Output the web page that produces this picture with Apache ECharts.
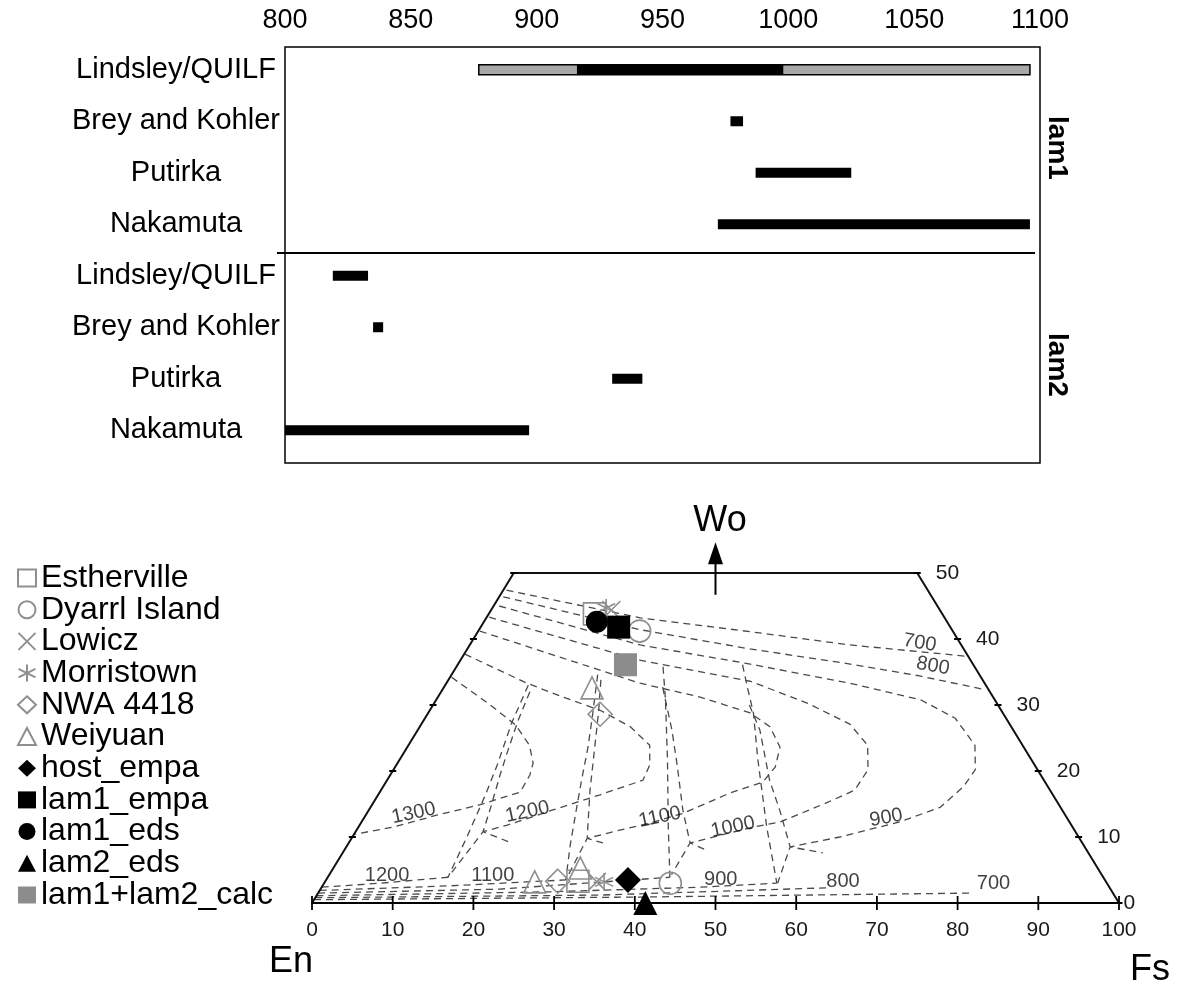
<!DOCTYPE html>
<html><head><meta charset="utf-8">
<script src="https://cdn.jsdelivr.net/npm/echarts@6/dist/echarts.min.js"></script>
<style>html,body{margin:0;padding:0;background:#fff}#c{width:1183px;height:988px}</style>
</head><body><div id="c"></div>
<script>
// ================= DATA =================
// --- top panel: temperature ranges (deg C) ---
const methods = ['Lindsley/QUILF', 'Brey and Kohler', 'Putirka', 'Nakamuta'];
const groups = ['lam1', 'lam2'];
const lam1Low  = [916, 977, 987, 972];
const lam1High = [998, 982, 1025, 1096];
const lam2Low  = [819, 835, 930, 800];
const lam2High = [833, 839, 942, 897];
const quilfLam1Extended = [877, 1096];     // grey extended range, Lindsley/QUILF lam1
const tempTicks = [800, 850, 900, 950, 1000, 1050, 1100];

// --- bottom panel: pyroxene quadrilateral, points as [Fs, Wo] (mol%) ---
const baseTicks = [0, 10, 20, 30, 40, 50, 60, 70, 80, 90, 100];
const woTicks = [0, 10, 20, 30, 40, 50];
const quadCorners = [[0, 0], [0, 50], [50, 50], [100, 0]];

// augite-side isotherms (deg C)
const aug700  = [[0.4,47.4],[19.1,43.2],[33.8,41.1],[47.1,39.1],[62.3,37.4]];
const aug800  = [[0.5,46.4],[20.0,41.4],[35.0,38.5],[48.6,36.2],[58.1,34.4],[66.9,32.4]];
const aug900  = [[0.7,45.0],[21.1,39.1],[36.2,36.2],[50.0,33.3],[60.0,30.8],[65.7,28.0],[70.2,23.9],[72.1,20.2],[71.9,17.6],[70.6,14.5],[66.7,12.3],[60.4,10.0],[55.0,8.5],[59.5,7.6]];
const aug1000 = [[0.3,43.3],[22.2,36.8],[37.5,33.6],[46.2,30.3],[53.1,27.1],[56.9,23.9],[58.8,20.2],[58.7,17.1],[56.2,15.2],[51.9,12.3],[48.6,11.4],[42.3,9.1],[44.9,8.0]];
const aug1100 = [[0.2,41.2],[24.0,33.3],[32.5,31.2],[39.9,28.8],[43.4,26.7],[46.2,23.6],[47.1,20.6],[46.7,18.3],[43.5,16.7],[39.2,13.6],[35.8,12.1],[31.9,10.8],[29.2,9.8],[31.5,9.1]];
const aug1200 = [[0.1,37.7],[10.0,33.3],[15.5,31.2],[21.1,29.2],[26.1,26.7],[29.9,23.9],[31.4,20.9],[31.7,18.6],[27.5,16.4],[22.8,14.1],[18.3,11.8],[15.8,10.8],[20.2,9.1]];
const aug1300 = [[0.2,34.2],[7.1,30.0],[11.7,27.0],[15.0,23.9],[16.8,21.2],[17.3,19.4],[17.4,16.8],[13.4,14.9],[8.8,13.3],[4.3,11.5],[0,10.4]];
// field boundaries (near-vertical dashed lines)
const bnd1200a = [[10.3,33.0],[11.1,27.3],[12.5,20.9],[13.3,16.4],[14.2,10.0],[14.9,3.9]];
const bnd1200b = [[11.0,32.0],[11.7,27.7],[12.7,23.2],[13.6,19.4],[14.8,14.9],[15.8,10.8],[14.9,3.9]];
const bnd1100a = [[18.1,34.6],[20.4,28.8],[22.4,23.6],[24.1,18.6],[25.7,14.1],[27.6,8.8],[29.7,3.5]];
const bnd1100b = [[18.9,33.8],[21.1,28.8],[23.4,23.2],[25.9,17.1],[29.2,9.8],[29.7,3.5]];
const bnd1000a = [[25.6,35.8],[28.4,30.8],[33.2,21.7],[38.4,11.5],[42.4,3.9]];
const bnd1000b = [[27.1,32.7],[31.5,26.2],[34.8,20.9],[38.9,14.1],[42.3,9.1],[42.4,4.3]];
const bnd900a  = [[35.3,36.1],[37.6,32.7],[40.3,28.8],[44.4,21.7],[50.6,11.5],[56.1,3.0]];
const bnd900b  = [[39.2,30.0],[42.4,26.2],[47.4,18.6],[50.9,14.1],[55.0,8.5],[56.2,3.0]];
// low-Ca (opx) isotherms
const opx1200 = [[0,2.4],[7.0,3.0],[14.9,3.9]];
const opx1100 = [[0,1.9],[15.8,2.6],[29.7,3.5]];
const opx1000 = [[0,1.5],[22.2,2.1],[42.4,3.9]];
const opx900  = [[0,1.1],[28.7,1.7],[46.9,2.4],[56.1,3.0]];
const opx800  = [[0,0.8],[35.1,1.2],[62.7,2.3]];
const opx700  = [[0,0.5],[40.2,0.9],[80.8,1.5]];
// isotherm labels [Fs, Wo, text, rotation]
const isoLabels = [
  [55.6,39.4,'700',-10],[59.0,35.9,'800',-10],
  [5.8,13.6,'1300',12],[19.8,13.8,'1200',12],[36.6,13.0,'1100',12],[46.4,11.5,'1000',12],[64.7,12.9,'900',10],
  [7.2,4.2,'1200',0],[20.3,4.2,'1100',0],[48.9,3.5,'900',0],[64.2,3.2,'800',0],[83.0,2.9,'700',0]
];
// samples
const sampleNames = ['Estherville','Dyarrl Island','Lowicz','Morristown','NWA 4418','Weiyuan','host_empa','lam1_empa','lam1_eds','lam2_eds','lam1+lam2_calc'];
const estherville = [[13.1,43.8],[31.3,3.3]];
const dyarrl      = [[20.0,41.2],[42.9,3.0]];
const lowicz      = [[14.9,44.4],[33.7,3.2]];
const morristown  = [[14.1,44.7],[34.6,3.2]];
const nwa4418     = [[21.4,28.6],[28.8,3.3]];
const weiyuan     = [[18.4,32.6],[26.0,3.2],[30.6,5.3]];
const hostEmpa    = [[37.4,3.5]];
const lam1Empa    = [[17.1,41.8]];
const lam1Eds     = [[14.0,42.6]];
const lam2Eds     = [[41.3,0.0]];
const lamCalc     = [[20.8,36.1]];

// ================= CHART =================
const FONT = "'Liberation Sans', Arial, Helvetica, sans-serif";
const proj = p => [p[0] + p[1] / 2, p[1]];   // [Fs, Wo] -> quadrilateral plot coords

const categories = [];
groups.forEach(g => methods.forEach(m => categories.push(g + '|' + m)));

const barData = [[0, quilfLam1Extended[0], quilfLam1Extended[1], 1]];
methods.forEach((m, i) => barData.push([i, lam1Low[i], lam1High[i], 0]));
methods.forEach((m, i) => barData.push([i + methods.length, lam2Low[i], lam2High[i], 0]));

const dashed = {color: '#4a4a4a', width: 1.3, type: [7, 5]};
const curves = [aug700, aug800, aug900, aug1000, aug1100, aug1200, aug1300,
  bnd1200a, bnd1200b, bnd1100a, bnd1100b, bnd1000a, bnd1000b, bnd900a, bnd900b,
  opx1200, opx1100, opx1000, opx900, opx800, opx700];

const Q = {xAxisIndex: 2, yAxisIndex: 2};
const series = [];

series.push({
  type: 'custom', xAxisIndex: 1, yAxisIndex: 1, data: barData,
  encode: {x: [1, 2], y: 0}, silent: true,
  renderItem(params, api) {
    const yi = api.value(0);
    const a = api.coord([api.value(1), yi]);
    const b = api.coord([api.value(2), yi]);
    const h = 10;
    const grey = api.value(3) === 1;
    return {type: 'rect', shape: {x: a[0], y: a[1] - h / 2, width: b[0] - a[0], height: h},
      style: grey ? {fill: '#a8a8a8', stroke: '#000', lineWidth: 1.5} : {fill: '#000'}};
  }
});

curves.forEach(c => series.push(Object.assign({
  type: 'line', data: c.map(proj), symbol: 'none', silent: true, lineStyle: dashed, z: 2
}, Q)));

series.push(Object.assign({
  type: 'line', data: quadCorners.map(proj), symbol: 'none', silent: true,
  lineStyle: {color: '#111', width: 2}, z: 3
}, Q));

// Wo arrow
series.push(Object.assign({
  type: 'line', silent: true, z: 3, symbol: 'none', showSymbol: true, clip: false,
  lineStyle: {color: '#000', width: 2},
  data: [{value: [50, 46.7]}, {value: [50, 53.0], symbol: 'triangle', symbolSize: [15, 22], itemStyle: {color: '#000', opacity: 1}}]
}, Q));

// tick marks
series.push(Object.assign({
  type: 'scatter', silent: true, z: 4, symbol: 'rect', symbolSize: [1.8, 14], itemStyle: {color: '#000', opacity: 1},
  data: baseTicks.map(v => proj([v, 0]))
}, Q));
series.push(Object.assign({
  type: 'scatter', silent: true, z: 4, symbol: 'rect', symbolSize: [7, 2], itemStyle: {color: '#000', opacity: 1},
  data: woTicks.filter(w => w > 0).map(w => proj([0, w]))
}, Q));
series.push(Object.assign({
  type: 'scatter', silent: true, z: 4, symbol: 'rect', symbolSize: [7, 2], itemStyle: {color: '#000', opacity: 1},
  label: {show: true, position: 'right', distance: 15, formatter: '{b}', fontSize: 21, color: '#1a1a1a', fontFamily: FONT},
  data: woTicks.map(w => ({value: proj([100 - w, w]), name: String(w), label: w === 0 ? {distance: 1} : undefined}))
}, Q));

// isotherm labels
series.push(Object.assign({
  type: 'scatter', silent: true, z: 5, symbolSize: 0,
  label: {show: true, position: 'inside', formatter: '{b}', fontSize: 20, color: '#111', fontFamily: FONT},
  data: isoLabels.map(l => ({value: proj([l[0], l[1]]), name: l[2], label: {rotate: l[3]}}))
}, Q));

// sample markers
const hollow = {color: 'rgba(255,255,255,0)', borderColor: '#8f8f8f', borderWidth: 1.6, opacity: 1};
const sampleSeries = [
  ['Estherville', estherville, 'rect', hollow, 22],
  ['Dyarrl Island', dyarrl, 'circle', hollow, 22],
  ['Lowicz', lowicz, 'path://M0,0L10,10M10,0L0,10', hollow, 18],
  ['Morristown', morristown, 'path://M5,0L5,10M0,2.5L10,7.5M0,7.5L10,2.5', hollow, 18],
  ['NWA 4418', nwa4418, 'diamond', hollow, 24],
  ['Weiyuan', weiyuan, 'triangle', hollow, 22],
  ['host_empa', hostEmpa, 'diamond', {color: '#000', opacity: 1}, 26],
  ['lam1_empa', lam1Empa, 'rect', {color: '#000', opacity: 1}, 23],
  ['lam1_eds', lam1Eds, 'circle', {color: '#000', opacity: 1}, 22],
  ['lam2_eds', lam2Eds, 'triangle', {color: '#000', opacity: 1}, 24],
  ['lam1+lam2_calc', lamCalc, 'rect', {color: '#8c8c8c', opacity: 1}, 23]
];
sampleSeries.forEach((s, i) => series.push(Object.assign({
  type: 'scatter', name: s[0], data: s[1].map(proj), symbol: s[2], symbolSize: s[4],
  itemStyle: s[3], z: 6 + i
}, Q)));

const chart = echarts.init(document.getElementById('c'), null, {renderer: 'canvas'});
chart.setOption({
  animation: false,
  backgroundColor: '#fff',
  textStyle: {fontFamily: FONT},
  grid: [
    {left: 285, top: 47, width: 755, height: 416, show: true, borderColor: '#000', borderWidth: 1.5, backgroundColor: 'transparent', outerBoundsMode: 'none'},
    {left: 285, top: 44, width: 755, height: 412, outerBoundsMode: 'none'},
    {left: 312, top: 507, width: 807, height: 396, outerBoundsMode: 'none'}
  ],
  xAxis: [
    {gridIndex: 0, type: 'value', position: 'top', min: tempTicks[0], max: tempTicks[tempTicks.length - 1], interval: 50,
      axisLine: {show: false}, axisTick: {show: false}, splitLine: {show: false},
      axisLabel: {fontSize: 27, color: '#000', margin: 13, fontFamily: FONT, showMinLabel: true, showMaxLabel: true,
        formatter: v => String(v)}},
    {gridIndex: 1, type: 'value', min: tempTicks[0], max: tempTicks[tempTicks.length - 1], show: false},
    {gridIndex: 2, type: 'value', min: 0, max: 100, interval: 10, position: 'bottom',
      axisLine: {lineStyle: {color: '#000', width: 2}}, axisTick: {show: false}, splitLine: {show: false},
      axisLabel: {fontSize: 21, color: '#1a1a1a', margin: 17, fontFamily: FONT, showMinLabel: true, showMaxLabel: true}}
  ],
  yAxis: [
    {gridIndex: 0, type: 'value', show: false},
    {gridIndex: 1, type: 'category', inverse: true, data: categories,
      axisLine: {show: false}, axisTick: {show: false}, splitLine: {show: false},
      axisLabel: {fontSize: 29, color: '#000', align: 'center', margin: 109, fontFamily: FONT, interval: 0,
        formatter: v => v.split('|')[1]}},
    {gridIndex: 2, type: 'value', min: 0, max: 60, show: false}
  ],
  legend: {
    data: sampleNames, orient: 'vertical', left: 12, top: 557,
    itemWidth: 18, itemHeight: 17, itemGap: -0.3, selectedMode: false,
    textStyle: {fontSize: 32, color: '#000', fontFamily: FONT, lineHeight: 32}
  },
  graphic: [
    {type: 'line', shape: {x1: 277, y1: 253, x2: 1035, y2: 253}, style: {stroke: '#000', lineWidth: 2}},
    {type: 'text', x: 1057, y: 148, rotation: -Math.PI / 2,
      style: {text: groups[0], fill: '#000', fontSize: 28, fontWeight: 'bold', fontFamily: FONT, align: 'center', verticalAlign: 'middle'}},
    {type: 'text', x: 1057, y: 365, rotation: -Math.PI / 2,
      style: {text: groups[1], fill: '#000', fontSize: 28, fontWeight: 'bold', fontFamily: FONT, align: 'center', verticalAlign: 'middle'}},
    {type: 'text', x: 720, y: 521, style: {text: 'Wo', fill: '#000', fontSize: 36, fontFamily: FONT, align: 'center', verticalAlign: 'middle'}},
    {type: 'text', x: 291, y: 962, style: {text: 'En', fill: '#000', fontSize: 36, fontFamily: FONT, align: 'center', verticalAlign: 'middle'}},
    {type: 'text', x: 1150, y: 970, style: {text: 'Fs', fill: '#000', fontSize: 36, fontFamily: FONT, align: 'center', verticalAlign: 'middle'}}
  ],
  series: series
});
</script></body></html>
